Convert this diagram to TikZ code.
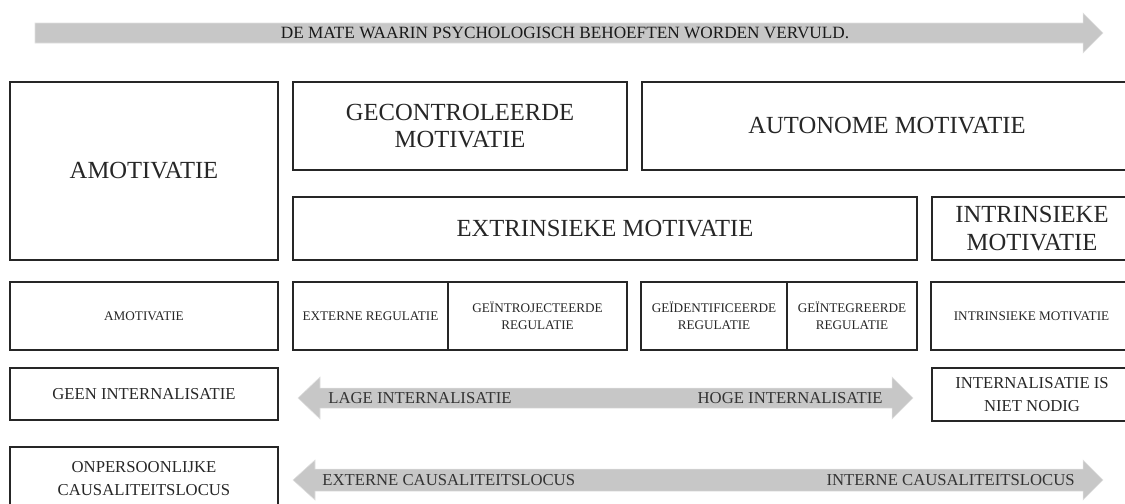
\documentclass[tikz,border=0pt]{standalone}
\usepackage{fontspec}
\setmainfont{Liberation Serif}
\usetikzlibrary{positioning}

\begin{document}
\begin{tikzpicture}[
      node distance=0.3cm,
      box/.style={rectangle,draw=black!85,line width=0.8pt,outer sep=0pt,align=center,text=black!85,inner sep=2pt,anchor=north west},
      bigbox/.style={box,font=\fontsize{14}{15.8}\selectfont},
      midbox/.style={box,font=\fontsize{9.5}{13.5}\selectfont},
      smallbox/.style={box,font=\fontsize{7.5}{9.6}\selectfont,minimum height=1.36cm},
      band/.style={fill=black!22,draw=black!12,line width=0.3pt},
      bandlabel/.style={text=black!80,inner sep=0pt,font=\fontsize{9.5}{11}\selectfont}
    ]
    \useasboundingbox (0,0) rectangle (22.5,-10.06);
    % top arrow
    \fill[band] (0.7,-0.46) -- (21.66,-0.46) -- (21.66,-0.26) -- (22.06,-0.66) -- (21.66,-1.06) -- (21.66,-0.86) -- (0.7,-0.86) -- cycle;
    \node[bandlabel,text=black!90,font=\fontsize{9.8}{11}\selectfont] (needs) at (11.3,-0.66) {DE MATE WAARIN PSYCHOLOGISCH BEHOEFTEN WORDEN VERVULD.};
    % motivation types
    \node[bigbox,minimum width=5.36cm,minimum height=3.56cm] (amot) at (0.2,-1.64) {AMOTIVATIE};
    \node[bigbox,minimum width=6.68cm,minimum height=1.76cm] (gecon) at (5.86,-1.64) {GECONTROLEERDE\\MOTIVATIE};
    \node[bigbox,minimum width=9.8cm,minimum height=1.76cm] (auton) at (12.84,-1.64) {AUTONOME MOTIVATIE};
    \node[bigbox,minimum width=12.48cm,minimum height=1.26cm] (extr) at (5.86,-3.94) {EXTRINSIEKE MOTIVATIE};
    \node[bigbox,minimum width=4cm,minimum height=1.26cm] (intr) at (18.64,-3.94) {INTRINSIEKE\\MOTIVATIE};
    % regulation styles
    \node[smallbox,minimum width=5.36cm] (amotreg) at (0.2,-5.64) {AMOTIVATIE};
    \node[smallbox,minimum width=3.1cm] (extreg) at (5.86,-5.64) {EXTERNE REGULATIE};
    \node[smallbox,minimum width=3.58cm,right=0pt of extreg.north east,anchor=north west] (introj) {GEÏNTROJECTEERDE\\REGULATIE};
    \node[smallbox,minimum width=2.92cm] (ident) at (12.82,-5.64) {GEÏDENTIFICEERDE\\REGULATIE};
    \node[smallbox,minimum width=2.6cm,right=0pt of ident.north east,anchor=north west] (integ) {GEÏNTEGREERDE\\REGULATIE};
    \node[smallbox,minimum width=4.02cm] (intreg) at (18.62,-5.64) {INTRINSIEKE MOTIVATIE};
    % internalisation
    \node[midbox,minimum width=5.36cm,minimum height=1.04cm] (geen) at (0.2,-7.36) {GEEN INTERNALISATIE};
    \fill[band] (5.96,-7.96) -- (6.4,-7.54) -- (6.4,-7.76) -- (17.84,-7.76) -- (17.84,-7.54) -- (18.26,-7.96) -- (17.84,-8.38) -- (17.84,-8.16) -- (6.4,-8.16) -- (6.4,-8.38) -- cycle;
    \node[bandlabel,anchor=west] (lage) at (6.56,-7.96) {LAGE INTERNALISATIE};
    \node[bandlabel,anchor=east] (hoge) at (17.66,-7.96) {HOGE INTERNALISATIE};
    \node[midbox,minimum width=4cm,minimum height=1.06cm] (niet) at (18.64,-7.36) {INTERNALISATIE IS\\NIET NODIG};
    % causality
    \node[midbox,minimum width=5.36cm,minimum height=1.26cm] (onpers) at (0.2,-8.94) {ONPERSOONLIJKE\\CAUSALITEITSLOCUS};
    \fill[band] (5.86,-9.6) -- (6.3,-9.2) -- (6.3,-9.38) -- (21.66,-9.38) -- (21.66,-9.2) -- (22.06,-9.6) -- (21.66,-10.0) -- (21.66,-9.82) -- (6.3,-9.82) -- (6.3,-10.0) -- cycle;
    \node[bandlabel,anchor=west] (extloc) at (6.44,-9.6) {EXTERNE CAUSALITEITSLOCUS};
    \node[bandlabel,anchor=east] (intloc) at (21.5,-9.6) {INTERNE CAUSALITEITSLOCUS};
  \end{tikzpicture}
\end{document}
